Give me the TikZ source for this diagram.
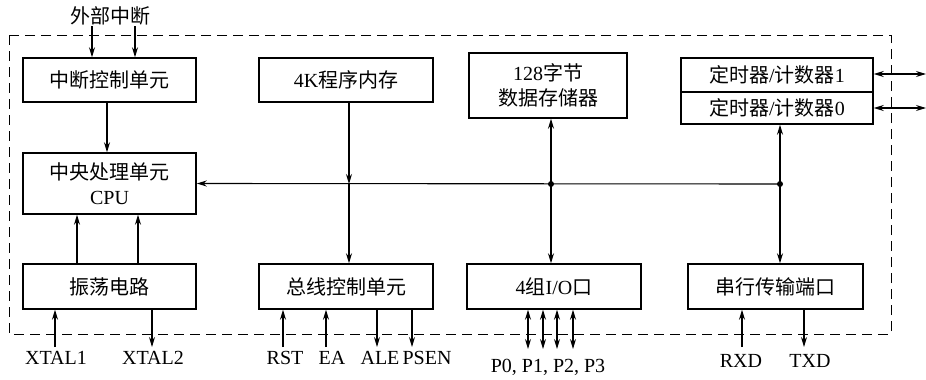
\documentclass[tikz,border=0pt]{standalone}
\usepackage{fontspec}
\setmainfont{Liberation Serif}
\newfontfamily\cjk{Noto Sans CJK SC}
\usetikzlibrary{arrows.meta}
\newcommand{\zh}[1]{{\cjk #1}}
\begin{document}
\begin{tikzpicture}[x=1pt,y=-1pt,
  every node/.style={font=\fontsize{20}{25}\selectfont},
  blk/.style={draw,line width=1.5pt,rectangle,inner sep=0pt,align=center},
  arr/.style={line width=1.1pt,-{Stealth[length=10pt,width=6pt]}},
  darr/.style={line width=1.1pt,{Stealth[length=10pt,width=6pt]}-{Stealth[length=10pt,width=6pt]}},
  lbl/.style={inner sep=1pt},
  jdot/.style={circle,fill,inner sep=0pt,minimum size=6pt}]
\useasboundingbox (0,0) rectangle (926,380);
\fill[white] (0,0) rectangle (926,380);
% frame
\draw[line width=1pt,dash pattern=on 10pt off 6pt] (9,35) rectangle (891,334);
% blocks
\node[blk,minimum width=173pt,minimum height=44pt] (intc) at (109.5,80) {\zh{中断控制单元}};
\node[blk,minimum width=173pt,minimum height=61pt] (cpu) at (109.5,183.5) {\zh{中央处理单元}\\CPU};
\node[blk,minimum width=173pt,minimum height=45pt] (osc) at (109.5,286.5) {\zh{振荡电路}};
\node[blk,minimum width=174pt,minimum height=44pt] (rom) at (346,80) {4K\zh{程序内存}};
\node[blk,minimum width=174pt,minimum height=45pt] (busc) at (346,286.5) {\zh{总线控制单元}};
\node[blk,minimum width=158pt,minimum height=65pt] (ram) at (548,85.5) {128\zh{字节}\\\zh{数据存储器}};
\node[blk,minimum width=174pt,minimum height=45pt] (io) at (554,286.5) {4\zh{组}I/O\zh{口}};
\node[blk,minimum width=192pt,minimum height=34pt] (tm1) at (777,75) {\zh{定时器}/\zh{计数器}1};
\node[blk,minimum width=192pt,minimum height=32pt] (tm0) at (777,108) {\zh{定时器}/\zh{计数器}0};
\node[blk,minimum width=175pt,minimum height=45pt] (ser) at (775.5,286.5) {\zh{串行传输端口}};
% labels
\node[lbl] (ext) at (110,16) {\zh{外部中断}};
\node[lbl] (xt1) at (56,358) {XTAL1};
\node[lbl] (xt2) at (153,358) {XTAL2};
\node[lbl] (rst) at (285,358) {RST};
\node[lbl] (ea) at (332,358) {EA};
\node[lbl] (ale) at (380,358) {ALE};
\node[lbl] (psen) at (427,358) {PSEN};
\node[lbl] (pp) at (548,367) {P0, P1, P2, P3};
\node[lbl] (rxd) at (741,361) {RXD};
\node[lbl] (txd) at (810,361) {TXD};
% bus coordinates
\coordinate (c4) at (349,184);
\coordinate (j1) at (551,184);
\coordinate (j2) at (780,184);
\draw[arr] (j2) -- (cpu.east);
\node[jdot] at (j1) {};
\node[jdot] at (j2) {};
\draw[arr] (rom.south -| c4) -- (c4);
\draw[arr] (c4) -- (busc.north -| c4);
\draw[arr] (j1) -- (ram.south -| j1);
\draw[arr] (j1) -- (io.north -| j1);
\draw[arr] (j2) -- (tm0.south -| j2);
\draw[arr] (j2) -- (ser.north -| j2);
% left column
\coordinate (e1) at (92,26);
\coordinate (e2) at (135,26);
\draw[arr] (e1) -- (intc.north -| e1);
\draw[arr] (e2) -- (intc.north -| e2);
\coordinate (ic) at (107,0);
\draw[arr] (intc.south -| ic) -- (cpu.north -| ic);
\coordinate (o1) at (77,0);
\coordinate (o2) at (138,0);
\draw[arr] (osc.north -| o1) -- (cpu.south -| o1);
\draw[arr] (osc.north -| o2) -- (cpu.south -| o2);
\coordinate (x1) at (55,347);
\coordinate (x2) at (152,347);
\draw[arr] (x1) -- (osc.south -| x1);
\draw[arr] (osc.south -| x2) -- (x2);
% bus control pins
\coordinate (p1) at (283,347);
\coordinate (p2) at (326,347);
\coordinate (p3) at (377,347);
\coordinate (p4) at (412,347);
\draw[arr] (p1) -- (busc.south -| p1);
\draw[arr] (p2) -- (busc.south -| p2);
\draw[arr] (busc.south -| p3) -- (p3);
\draw[arr] (busc.south -| p4) -- (p4);
% io ports
\foreach \x/\n in {528/q0,543/q1,557/q2,573/q3}{
  \coordinate (\n) at (\x,349);
  \draw[darr] (io.south -| \n) -- (\n);
}
% serial
\coordinate (r1) at (742,347);
\coordinate (t1) at (804,347);
\draw[arr] (r1) -- (ser.south -| r1);
\draw[arr] (ser.south -| t1) -- (t1);
% timer side
\coordinate (s1) at (926,74);
\coordinate (s0) at (926,108);
\draw[darr] (tm1.east |- s1) -- (s1);
\draw[darr] (tm0.east |- s0) -- (s0);
\end{tikzpicture}
\end{document}
